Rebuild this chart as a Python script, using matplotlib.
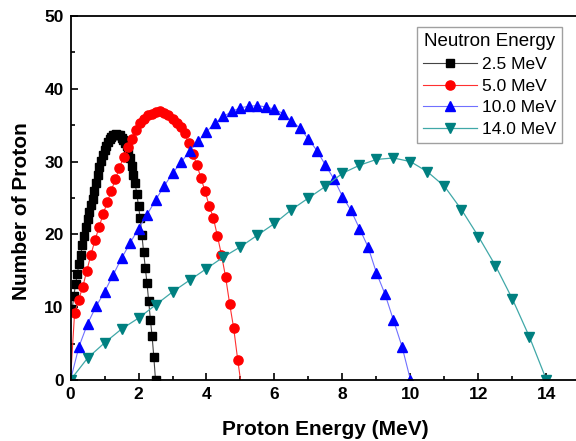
import matplotlib
matplotlib.use("Agg")
import matplotlib.pyplot as plt
from matplotlib.ticker import MultipleLocator

plt.rcParams['font.family'] = ['Liberation Sans', 'DejaVu Sans']

# 2.5 MeV neutrons, step 0.05 MeV
e25_x = [round(0.05 * k, 2) for k in range(1, 51)]
e25_y = [9.8, 11.6, 13.2, 14.6, 16.0, 17.2, 18.5, 19.8, 21.0, 22.1,
         23.1, 24.0, 24.9, 25.9, 27.0, 28.1, 29.2, 30.1, 30.9, 31.6,
         32.2, 32.7, 33.1, 33.4, 33.6, 33.7, 33.8, 33.7, 33.6, 33.3,
         33.0, 32.6, 32.1, 31.4, 30.5, 29.4, 28.2, 27.0, 25.6, 23.9,
         22.2, 19.9, 17.6, 15.4, 13.3, 10.8, 8.3, 6.0, 3.2, 0.0]

# 5.0 MeV neutrons, step 0.12 MeV, line closes at 5.0
e50_x = [round(0.12 * k, 2) for k in range(0, 42)] + [5.0]
e50_y = [0.0, 9.2, 11.0, 12.8, 15.0, 17.2, 19.2, 21.0, 22.8, 24.4,
         26.0, 27.6, 29.1, 30.7, 32.0, 33.1, 34.3, 35.3, 35.9, 36.4,
         36.6, 36.8, 36.9, 36.7, 36.4, 35.9, 35.3, 34.7, 33.9, 32.5,
         31.1, 29.5, 27.7, 25.9, 23.9, 22.3, 19.8, 17.2, 14.2, 10.5,
         7.1, 2.7, 0.0]

# 10.0 MeV neutrons, step 0.25 MeV
e100_x = [0.25 * k for k in range(0, 41)]
e100_y = [0.0, 4.6, 7.7, 10.1, 12.1, 14.4, 16.7, 18.8, 20.8, 22.7,
          24.7, 26.6, 28.4, 29.9, 31.4, 32.8, 34.1, 35.3, 36.2, 36.9,
          37.4, 37.6, 37.7, 37.5, 37.2, 36.6, 35.6, 34.6, 33.1, 31.5,
          29.5, 27.6, 25.2, 23.3, 20.8, 18.3, 14.7, 11.8, 8.2, 4.6, 0.0]

# 14.0 MeV neutrons, step 0.5 MeV
e140_x = [0.5 * k for k in range(0, 29)]
e140_y = [0.0, 3.0, 5.1, 7.0, 8.5, 10.3, 12.1, 13.7, 15.3, 16.9,
          18.3, 19.9, 21.5, 23.4, 25.0, 26.6, 28.4, 29.5, 30.3, 30.5,
          30.0, 28.6, 26.6, 23.4, 19.7, 15.7, 11.1, 5.9, 0.0]

fig = plt.figure(figsize=(5.76, 4.41), dpi=100)
# right end of the axis runs past the edge of the picture, as in the original
ax = fig.add_axes([0.1224, 0.1383, 0.8854, 0.8254])

ax.plot(e25_x, e25_y, color='#444444', lw=0.8, marker='s', ms=5.8,
        mfc='black', mec='black', label='2.5 MeV')
ax.plot(e50_x, e50_y, color='#ff3030', lw=0.8, marker='o', ms=6.6,
        mfc='red', mec='red', markevery=slice(1, len(e50_x) - 1),
        label='5.0 MeV')
ax.plot(e100_x, e100_y, color='#7070ff', lw=0.8, marker='^', ms=7.6,
        mfc='blue', mec='blue', label='10.0 MeV')
ax.plot(e140_x, e140_y, color='#40a8a8', lw=0.9, marker='v', ms=7.6,
        mfc='#008080', mec='#008080', label='14.0 MeV')

ax.set_xlim(0, 15)
ax.set_ylim(0, 50)
ax.xaxis.set_major_locator(MultipleLocator(2))
ax.xaxis.set_minor_locator(MultipleLocator(1))
ax.yaxis.set_major_locator(MultipleLocator(10))
ax.yaxis.set_minor_locator(MultipleLocator(5))
ax.tick_params(which='both', direction='in', width=1.2)
ax.tick_params(which='major', length=5, labelsize=12.5, pad=5)
ax.tick_params(which='minor', length=3)
for lab in ax.get_xticklabels() + ax.get_yticklabels():
    lab.set_fontweight('bold')

ax.spines['right'].set_visible(False)
for s in ['left', 'bottom', 'top']:
    ax.spines[s].set_linewidth(1.3)

ax.set_xlabel('Proton Energy (MeV)', fontsize=15, fontweight='bold')
ax.set_ylabel('Number of Proton', fontsize=15, fontweight='bold')
ax.xaxis.set_label_coords(255 / 510, -40 / 364)
ax.yaxis.set_label_coords(-40 / 510, 0.464)

leg = ax.legend(title='Neutron Energy', loc='upper right',
                bbox_to_anchor=(492 / 510, 353 / 364), fontsize=12.5,
                title_fontsize=13.5, fancybox=False, edgecolor='#888888',
                handlelength=3.1, handletextpad=0.3, borderpad=0.35,
                labelspacing=0.38, borderaxespad=0)
leg.get_frame().set_linewidth(1.0)

plt.savefig("out.png")
